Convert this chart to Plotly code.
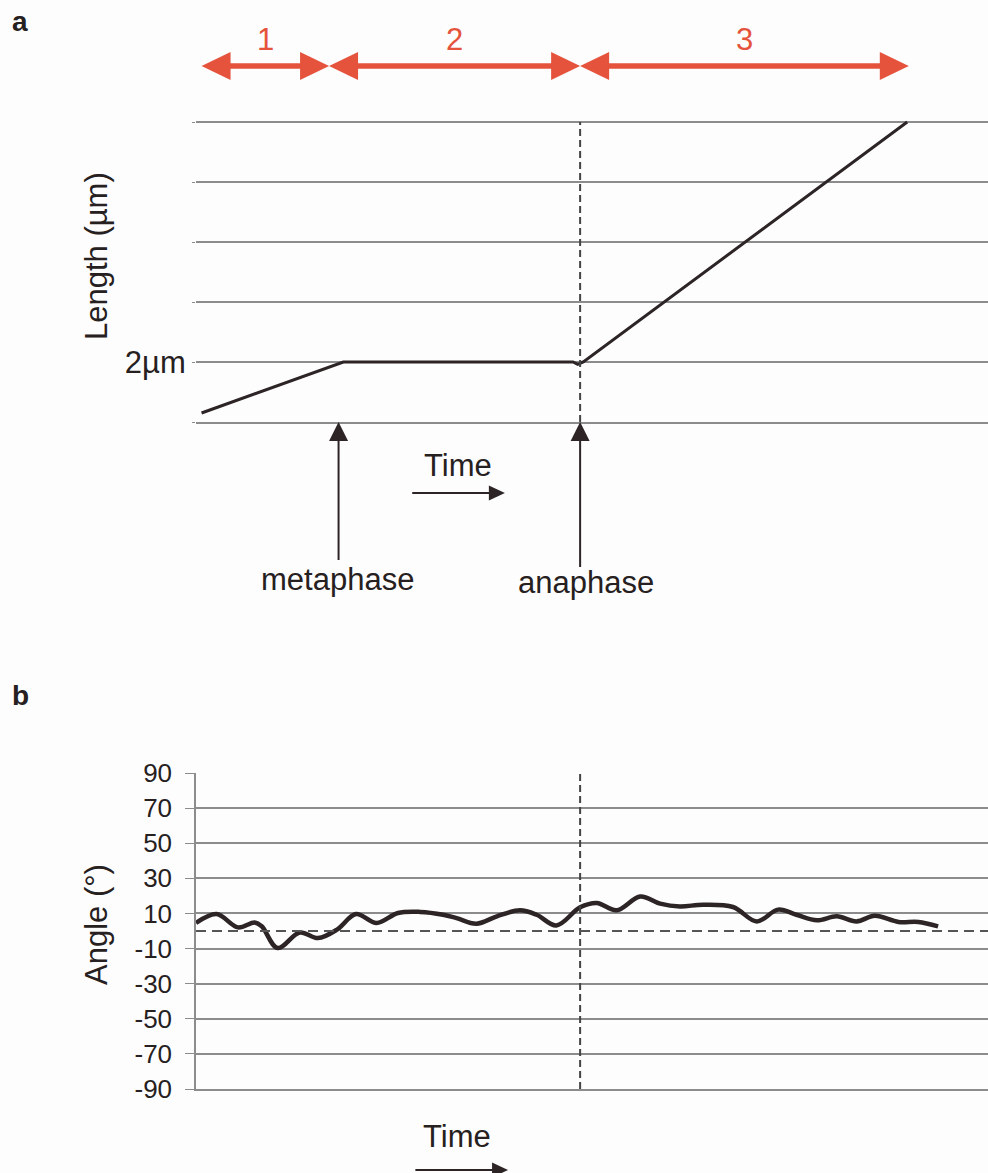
import plotly.graph_objects as go

# ---------------- data ----------------
# Panel a: spindle length vs time (arbitrary time units)
length_time = [0.7, 18.6, 47.6, 48.2, 48.9, 89.8]
length_um = [1.15, 2.0, 2.0, 1.96, 2.0, 6.0]
length_ticks = [1, 2, 3, 4, 5, 6]
length_ticktext = ["", "2µm", "", "", "", ""]
phase_bounds = [0.7, 16.8, 48.5, 90.0]
phase_labels = ["1", "2", "3"]
metaphase_t = 18.0
anaphase_t = 48.5

# Panel b: spindle angle vs time
angle_time = [0, 2.6, 5.3, 7.4, 8.3, 10.3, 13.1, 15.4, 17.8, 20.2, 22.8, 25.5,
              28.3, 31.2, 32.9, 35.4, 38.0, 40.9, 43.0, 45.5, 48.5, 50.6, 53.1,
              56.1, 58.6, 61.1, 64.0, 67.8, 70.8, 73.5, 75.8, 78.4, 80.9, 83.4,
              85.7, 88.7, 91.2, 93.7]
angle_deg = [4.6, 9.7, 2.1, 4.9, 2.7, -9.7, -0.8, -4.0, 0.8, 9.7, 4.6, 10.3,
             10.9, 9.3, 7.4, 4.2, 8.4, 11.8, 9.3, 3.2, 13.5, 16.0, 11.8,
             19.7, 15.6, 14.0, 15.0, 13.7, 5.5, 12.2, 9.3, 6.1, 8.4, 5.5,
             8.7, 5.2, 5.2, 2.7]
angle_ticks = [90, 70, 50, 30, 10, -10, -30, -50, -70, -90]
angle_ticktext = ["90", "70", "50", "30", "10", "-10", "-30", "-50", "-70", "-90"]
angle_ref = 0

# ---------------- layout constants ----------------
W, H = 988, 1173
X0 = 196
A_TOP, A_BOT = 122, 422
B_TOP, B_BOT = 773, 1089
PXT = (W - X0) / 100.0
A_PAD = 0.05  # extra range above top gridline so it is drawn
A_TOP_DOM = A_TOP - A_PAD * (A_BOT - A_TOP) / 5.0

FONT = "Liberation Sans, Arial, sans-serif"
TXT = "#262020"
GRID = "#8c8c8c"
RED = "#e5533d"
DARK = "#2c2425"


def py(p):
    return 1 - p / H


def px(p):
    return p / W


fig = go.Figure()
fig.add_trace(go.Scatter(x=length_time, y=length_um, mode="lines",
                         line=dict(color=DARK, width=3), xaxis="x", yaxis="y",
                         showlegend=False, hoverinfo="skip"))
fig.add_trace(go.Scatter(x=angle_time, y=angle_deg, mode="lines",
                         line=dict(color=DARK, width=4.5, shape="spline", smoothing=1.0),
                         xaxis="x2", yaxis="y2", showlegend=False, hoverinfo="skip"))

shapes = []


def hline_arrow(xref, a, b, yp, width, color, head_len, half, left=True, right=True):
    x0 = a + (head_len * 0.5 / PXT if left else 0)
    x1 = b - (head_len * 0.5 / PXT if right else 0)
    shapes.append(dict(type="line", xref=xref, yref="paper", x0=x0, x1=x1, y0=yp, y1=yp,
                       line=dict(color=color, width=width)))
    if left:
        shapes.append(dict(type="path", xref=xref, yref="paper", xsizemode="pixel",
                           ysizemode="pixel", xanchor=a, yanchor=yp,
                           path=f"M0,0 L{head_len},{half} L{head_len},{-half} Z",
                           fillcolor=color, line=dict(width=0)))
    if right:
        shapes.append(dict(type="path", xref=xref, yref="paper", xsizemode="pixel",
                           ysizemode="pixel", xanchor=b, yanchor=yp,
                           path=f"M0,0 L{-head_len},{half} L{-head_len},{-half} Z",
                           fillcolor=color, line=dict(width=0)))


# red phase arrows
for i in range(len(phase_labels)):
    hline_arrow("x", phase_bounds[i], phase_bounds[i + 1], py(66), 5.5, RED, 29, 14)

# vertical event arrows
for t, bottom in [(metaphase_t, 560), (anaphase_t, 567)]:
    shapes.append(dict(type="line", xref="x", yref="paper", x0=t, x1=t,
                       y0=py(bottom), y1=py(A_BOT + 12), line=dict(color=DARK, width=2)))
    shapes.append(dict(type="path", xref="x", yref="paper", xsizemode="pixel",
                       ysizemode="pixel", xanchor=t, yanchor=py(A_BOT),
                       path="M0,0 L-9.5,-19 L9.5,-19 Z", fillcolor=DARK, line=dict(width=0)))

# time arrows
hline_arrow("x", 27.3, 39.0, py(493), 2, DARK, 16, 7.5, left=False)
hline_arrow("x2", 27.7, 39.4, py(1170), 2, DARK, 16, 7.5, left=False)

# dashed reference lines
shapes.append(dict(type="line", xref="x", yref="paper", x0=anaphase_t, x1=anaphase_t,
                   y0=py(A_BOT), y1=py(A_TOP), line=dict(color="#444", width=2, dash="7px,4px")))
shapes.append(dict(type="line", xref="x2", yref="paper", x0=anaphase_t, x1=anaphase_t,
                   y0=py(B_BOT), y1=py(B_TOP), line=dict(color="#444", width=2, dash="7px,4px")))
shapes.append(dict(type="line", xref="paper", yref="y2", x0=px(X0), x1=1,
                   y0=angle_ref, y1=angle_ref,
                   line=dict(color="#555", width=2, dash="10px,6px")))

annotations = []


def text(s, xp, ypix, size=31, color=TXT, xref="paper", bold=False, angle=0):
    annotations.append(dict(text=f"<b>{s}</b>" if bold else s, x=xp, y=py(ypix),
                            xref=xref, yref="paper", showarrow=False, textangle=angle,
                            font=dict(family=FONT, size=size, color=color),
                            xanchor="center", yanchor="middle"))


text("a", px(20), 22, size=28, bold=True)
text("b", px(20), 695, size=28, bold=True)
for i, lab in enumerate(phase_labels):
    text(lab, (phase_bounds[i] + phase_bounds[i + 1]) / 2, 40, size=31, color=RED, xref="x")
text("Time", px(458), 465)
text("metaphase", px(337), 580)
text("anaphase", px(586), 582)
text("Length (µm)", px(96), 256, angle=-90)
text("Angle (°)", px(96), 925, angle=-90)
text("Time", px(457), 1136)

fig.update_layout(
    width=W, height=H, margin=dict(l=0, r=0, t=0, b=0),
    template="none", paper_bgcolor="#fdfdfd", plot_bgcolor="rgba(0,0,0,0)",
    font=dict(family=FONT, color=TXT),
    shapes=shapes, annotations=annotations,
    xaxis=dict(domain=[px(X0), 1], range=[0, 100], anchor="y", showgrid=False,
               zeroline=False, showticklabels=False, ticks="", showline=True,
               linecolor=GRID, linewidth=1.5),
    yaxis=dict(domain=[py(A_BOT), py(A_TOP_DOM)], range=[1, 6 + A_PAD], anchor="x",
               tickvals=length_ticks, ticktext=length_ticktext, ticks="outside",
               ticklen=3, tickcolor=GRID, showgrid=True, gridcolor=GRID, gridwidth=1.5,
               zeroline=False, showline=False,
               tickfont=dict(family=FONT, size=31, color=TXT)),
    xaxis2=dict(domain=[px(X0), 1], range=[0, 100], anchor="y2", showgrid=False,
                zeroline=False, showticklabels=False, ticks="", showline=True,
                linecolor=GRID, linewidth=1.5),
    yaxis2=dict(domain=[py(B_BOT), py(B_TOP)], range=[-90, 90.05], anchor="x2",
                tickvals=angle_ticks, ticktext=angle_ticktext, ticks="outside",
                ticklen=9, tickcolor=GRID,
                showgrid=True, gridcolor=GRID, gridwidth=1.5, zeroline=False,
                showline=True, linecolor=GRID, linewidth=1.5, ticklabelstandoff=8,
                tickfont=dict(family=FONT, size=26, color=TXT)),
)

fig.write_html("out.html")
